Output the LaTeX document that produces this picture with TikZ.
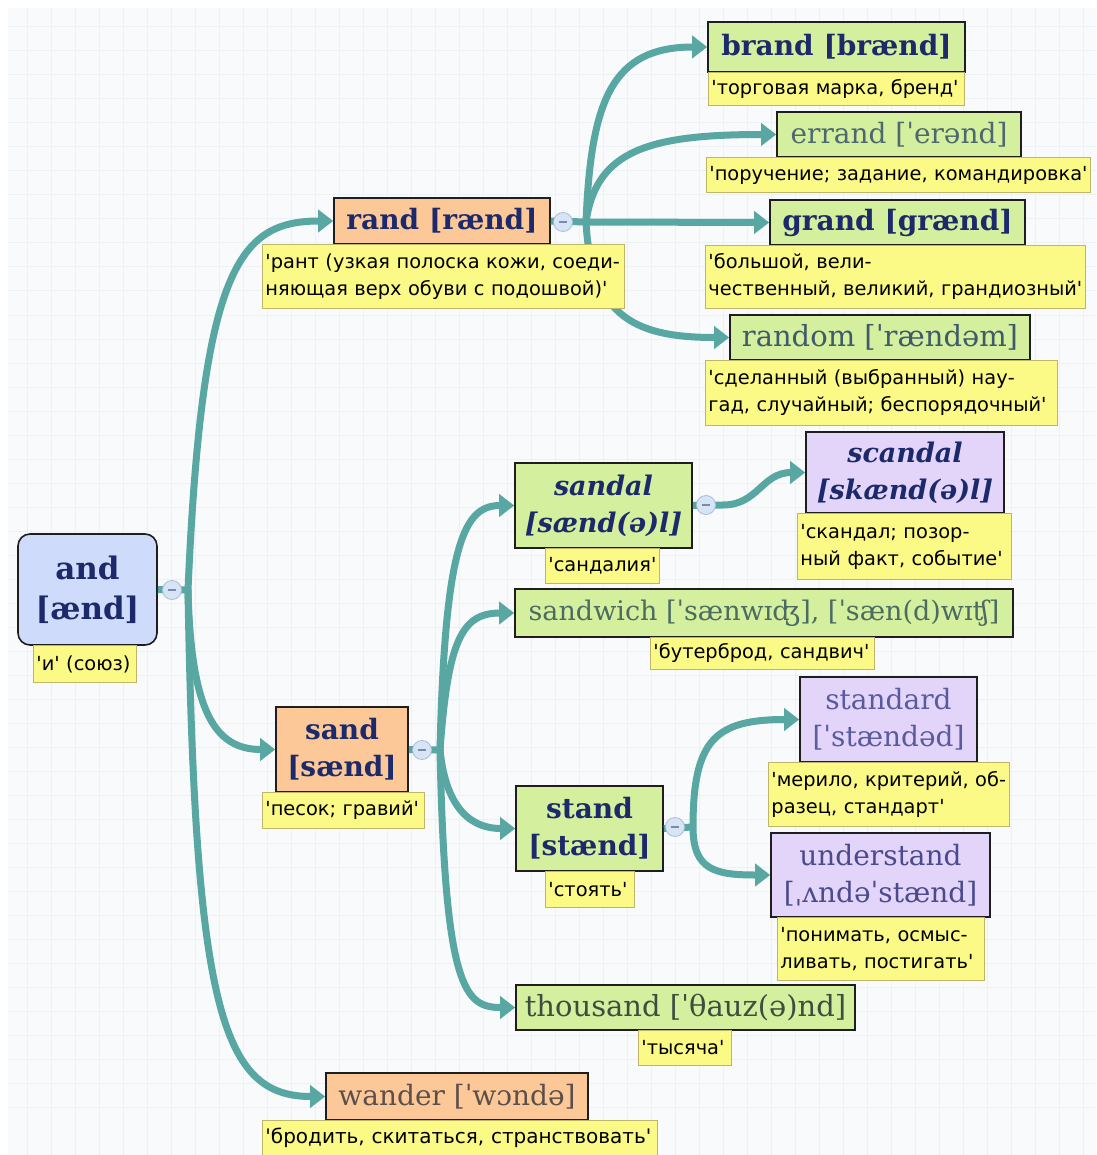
\documentclass[tikz,border=0pt]{standalone}
\usepackage{fontspec}
\newfontfamily\headfont{DejaVu Serif}
\newfontfamily\glossfont{DejaVu Sans}
\usetikzlibrary{arrows.meta}

\definecolor{bgfill}{HTML}{F8FAFC}
\definecolor{gridcol}{HTML}{EBF1F4}
\definecolor{linkcol}{HTML}{58A7A3}
\definecolor{boxline}{HTML}{1E1E1E}
\definecolor{fillblue}{HTML}{CFDBFA}
\definecolor{fillpeach}{HTML}{FCC897}
\definecolor{fillgreen}{HTML}{D4EF9D}
\definecolor{filllav}{HTML}{E3D5FA}
\definecolor{glossfill}{HTML}{FCFA86}
\definecolor{glossline}{HTML}{BDB56A}
\definecolor{navy}{HTML}{1C2A6B}
\definecolor{errcol}{HTML}{4E6872}
\definecolor{randcol}{HTML}{3F5B6B}
\definecolor{sandwcol}{HTML}{4D6B62}
\definecolor{thoucol}{HTML}{3F4C40}
\definecolor{wandcol}{HTML}{5B4F4C}
\definecolor{stdcol}{HTML}{5A5A9E}
\definecolor{undcol}{HTML}{4A4A8C}
\definecolor{btnfill}{HTML}{D7E4F6}
\definecolor{btnline}{HTML}{A9BDD9}
\definecolor{btnminus}{HTML}{7A8BAA}

\begin{document}
\begin{tikzpicture}[x=1pt,y=-1pt,
  headbox/.style={draw=boxline, line width=1.6pt, inner sep=0pt, align=center,
    text=navy, font=\headfont\bfseries\fontsize{28}{37}\selectfont},
  plainhead/.style={font=\headfont\fontsize{28}{37}\selectfont},
  italhead/.style={font=\headfont\bfseries\itshape\fontsize{27}{37}\selectfont},
  gloss/.style={draw=glossline, line width=0.9pt, fill=glossfill, anchor=north west,
    align=left, inner xsep=3pt, inner ysep=0pt, text=black,
    font=\glossfont\fontsize{19.4}{27}\selectfont},
  conn/.style={draw=linkcol, line width=7pt,
    -{Triangle[length=15pt,width=22pt]}},
  stub/.style={draw=linkcol, line width=7pt},
  btn/.style={circle, minimum size=19pt, inner sep=0pt, fill=btnfill, draw=btnline,
    line width=0.8pt,
    path picture={\draw[btnminus, line width=1.3pt]
      ([xshift=-4pt]path picture bounding box.center) --
      ([xshift=4pt]path picture bounding box.center);}}
]
\useasboundingbox (0,0) rectangle (1096,1155);

% canvas with a faint grid
\fill[white] (0,0) rectangle (1096,1155);
\fill[bgfill] (8,8) rectangle (1096,1155);
\foreach \k in {0,...,45} {
  \draw[gridcol, line width=1pt] (8,{27+24*\k}) -- (1096,{27+24*\k});
  \draw[gridcol, line width=1pt] ({27+24*\k},8) -- ({27+24*\k},1155);
}

% branch points
\coordinate (andhub) at (188,590);
\coordinate (randhub) at (586,222);
\coordinate (sandalhub) at (723,505);
\coordinate (sandhub) at (440,750);
\coordinate (standhub) at (693,827);

% head words
\node[headbox, rounded corners=12pt, fill=fillblue, minimum width=139pt, minimum height=111pt,
  font=\headfont\bfseries\fontsize{31}{40}\selectfont] (and) at (87.5,589.5) {and\\{[}ænd]};
\node[headbox, fill=fillpeach, minimum width=216pt, minimum height=46pt] (rand) at (442,221) {rand [rænd]};
\node[headbox, fill=fillgreen, minimum width=257pt, minimum height=50pt] (brand) at (836.5,47) {brand [brænd]};
\node[headbox, plainhead, text=errcol, fill=fillgreen, minimum width=244pt, minimum height=45pt] (errand) at (899,134.5) {errand [ˈerənd]};
\node[headbox, fill=fillgreen, minimum width=255pt, minimum height=45pt] (grand) at (897.5,222.5) {grand [grænd]};
\node[headbox, plainhead, text=randcol, fill=fillgreen, minimum width=300pt, minimum height=45pt,
  font=\headfont\fontsize{29}{37}\selectfont] (random) at (880,337.5) {random [ˈrændəm]};
\node[headbox, italhead, fill=fillgreen, minimum width=177pt, minimum height=85pt] (sandal) at (603.5,505.5) {sandal\\{[}sænd(ə)l]};
\node[headbox, italhead, fill=filllav, minimum width=198pt, minimum height=81pt] (scandal) at (905,472.5) {scandal\\{[}skænd(ə)l]};
\node[headbox, plainhead, text=sandwcol, fill=fillgreen, minimum width=498pt, minimum height=48pt,
  font=\headfont\fontsize{27}{37}\selectfont] (sandwich) at (764,613) {sandwich [ˈsænwɪʤ], [ˈsæn(d)wɪʧ]};
\node[headbox, fill=fillpeach, minimum width=132pt, minimum height=85pt] (sand) at (342,749.5) {sand\\{[}sænd]};
\node[headbox, fill=fillgreen, minimum width=147pt, minimum height=85pt] (stand) at (589.5,828.5) {stand\\{[}stænd]};
\node[headbox, plainhead, text=stdcol, fill=filllav, minimum width=177pt, minimum height=85pt] (standard) at (888.5,719.5) {standard\\{[}ˈstændəd]};
\node[headbox, plainhead, text=undcol, fill=filllav, minimum width=219pt, minimum height=84pt] (understand) at (880.5,875) {understand\\{[}ˌʌndəˈstænd]};
\node[headbox, plainhead, text=thoucol, fill=fillgreen, minimum width=339pt, minimum height=45pt,
  font=\headfont\fontsize{29}{37}\selectfont] (thousand) at (685.5,1007.5) {thousand [ˈθauz(ə)nd]};
\node[headbox, plainhead, text=wandcol, fill=fillpeach, minimum width=262pt, minimum height=47pt] (wander) at (457,1096.5) {wander [ˈwɔndə]};

% connectors
\draw[stub] (and.east) -- (andhub);
\draw[stub] (rand.east) -- (randhub);
\draw[stub] (sandal.east) -- (sandalhub);
\draw[stub] (sand.east) -- (sandhub);
\draw[stub] (stand.east) -- (standhub);

\draw[conn] (andhub) .. controls (202,270) and (238,221) .. (rand.west);
\draw[conn] (andhub) .. controls (191,712) and (215,749.5) .. (sand.west);
\draw[conn] (andhub) .. controls (195,1010) and (222,1096.5) .. (wander.west);

\draw[conn] (randhub) .. controls (591,100) and (612,47) .. (brand.west);
\draw[conn] (randhub) .. controls (596,150) and (650,134.5) .. (errand.west);
\draw[conn] (randhub) -- (grand.west);
\draw[conn] (randhub) .. controls (591,320) and (640,337.5) .. (random.west);

\draw[conn] (sandalhub) .. controls (758,505) and (762,472.5) .. (scandal.west);

\draw[conn] (sandhub) .. controls (445,540) and (465,505.5) .. (sandal.west);
\draw[conn] (sandhub) .. controls (448,640) and (462,613) .. (sandwich.west);
\draw[conn] (sandhub) .. controls (445,800) and (465,828.5) .. (stand.west);
\draw[conn] (sandhub) .. controls (445,990) and (465,1007.5) .. (thousand.west);

\draw[conn] (standhub) .. controls (693,740) and (715,719.5) .. (standard.west);
\draw[conn] (standhub) .. controls (693,870) and (715,875) .. (understand.west);

% glosses
\node[gloss, text width=97pt, minimum height=37pt] (andg) at (33,645) {'и' (союз)};
\node[gloss, text width=356pt, minimum height=64pt] (randg) at (262,244) {'рант (узкая полоска кожи, соеди-\\няющая верх обуви с подошвой)'};
\node[gloss, text width=250pt, minimum height=33pt] (brandg) at (708,72) {'торговая марка, бренд'};
\node[gloss, text width=378pt, minimum height=35pt] (errandg) at (706,157) {\mbox{'поручение; задание, командировка'}};
\node[gloss, text width=374pt, minimum height=63pt] (grandg) at (705,245) {'большой, вели-\\чественный, великий, грандиозный'};
\node[gloss, text width=346pt, minimum height=65pt] (randomg) at (705,360) {'сделанный (выбранный) нау-\\гад, случайный; беспорядочный'};
\node[gloss, text width=108pt, minimum height=35pt] (sandalg) at (545,548) {'сандалия'};
\node[gloss, text width=208pt, minimum height=66pt] (scandalg) at (797,513) {'скандал; позор-\\ный факт, событие'};
\node[gloss, text width=218pt, minimum height=32pt] (sandwichg) at (650,637) {\mbox{'бутерброд, сандвич'}};
\node[gloss, text width=156pt, minimum height=36pt] (sandg) at (262,792) {'песок; гравий'};
\node[gloss, text width=83pt, minimum height=36pt] (standg) at (545,871) {'стоять'};
\node[gloss, text width=235pt, minimum height=64pt] (standardg) at (768,762) {'мерило, критерий, об-\\разец, стандарт'};
\node[gloss, text width=201pt, minimum height=63pt] (understandg) at (777,917) {'понимать, осмыс-\\ливать, постигать'};
\node[gloss, text width=87pt, minimum height=35pt] (thousandg) at (638,1030) {'тысяча'};
\node[gloss, text width=389pt, minimum height=35pt, font=\glossfont\fontsize{20}{27}\selectfont] (wanderg) at (262,1120) {'бродить, скитаться, странствовать'};

% collapse buttons
\node[btn] (andbtn) at (172,590) {};
\node[btn] (randbtn) at (563,222) {};
\node[btn] (sandalbtn) at (706,505) {};
\node[btn] (sandbtn) at (422,750) {};
\node[btn] (standbtn) at (675,827) {};
\end{tikzpicture}
\end{document}
